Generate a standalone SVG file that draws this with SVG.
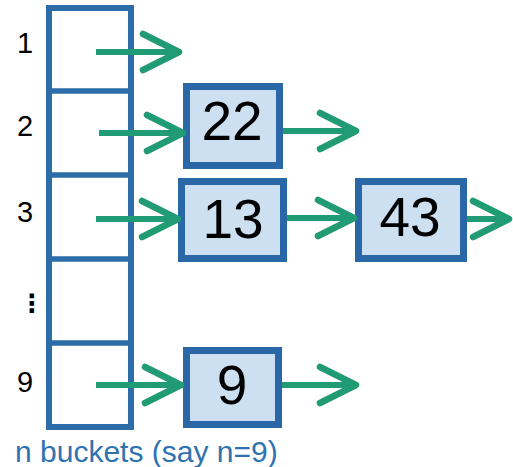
<svg xmlns="http://www.w3.org/2000/svg" width="513" height="467" viewBox="0 0 513 467">
  <style>
    .bucket { fill: #ffffff; stroke: #2b6ca9; stroke-width: 6; }
    .sep { stroke: #2b6ca9; stroke-width: 5.5; }
    .node rect { fill: #cce0f2; stroke: #2967a6; stroke-width: 7; }
    .node text { font-family: "Liberation Sans", Arial, sans-serif; font-size: 55px; fill: #000000; text-anchor: middle; }
    .idx { font-family: "Liberation Sans", Arial, sans-serif; font-size: 29px; fill: #000000; text-anchor: middle; }
    .link { stroke: #219b73; stroke-width: 6; fill: none; marker-end: url(#head); }
    .caption { font-family: "Liberation Sans", Arial, sans-serif; font-size: 30px; fill: #2e72b1; }
  </style>
  <defs>
    <marker id="head" markerUnits="userSpaceOnUse" viewBox="-42 -24 50 48" markerWidth="50" markerHeight="48" refX="0" refY="0" orient="auto" overflow="visible">
      <path d="M-36,-18 L0,0 L-36,18" fill="none" stroke="#219b73" stroke-width="6.5" stroke-linecap="round" stroke-linejoin="round"/>
    </marker>
  </defs>

  <!-- bucket array -->
  <g id="buckets">
    <rect class="bucket" x="49" y="8" width="82" height="419"/>
    <line class="sep" x1="49" y1="91" x2="131" y2="91"/>
    <line class="sep" x1="49" y1="175" x2="131" y2="175"/>
    <line class="sep" x1="49" y1="259" x2="131" y2="259"/>
    <line class="sep" x1="49" y1="343" x2="131" y2="343"/>
  </g>

  <!-- bucket indices -->
  <g id="indices">
    <text class="idx" x="25" y="53">1</text>
    <text class="idx" x="25" y="136">2</text>
    <text class="idx" x="25" y="222">3</text>
    <text x="32" y="312" font-family="DejaVu Sans, sans-serif" font-size="25" font-weight="bold" text-anchor="middle" fill="#000000">⋮</text>
    <text class="idx" x="25" y="392">9</text>
  </g>

  <!-- list nodes -->
  <g id="node-22" class="node">
    <rect x="186.5" y="86.5" width="93" height="79"/>
    <text x="232" y="140">22</text>
  </g>
  <g id="node-13" class="node">
    <rect x="181.5" y="181.5" width="102" height="77"/>
    <text x="233" y="238">13</text>
  </g>
  <g id="node-43" class="node">
    <rect x="358.5" y="181.5" width="105" height="77"/>
    <text x="410" y="236">43</text>
  </g>
  <g id="node-9" class="node">
    <rect x="186.5" y="350.5" width="92" height="74"/>
    <text x="232" y="404">9</text>
  </g>

  <!-- pointers -->
  <g id="connectors">
    <line class="link" x1="96" y1="52" x2="179" y2="52"/>
    <line class="link" x1="99" y1="133" x2="183" y2="133"/>
    <line class="link" x1="96" y1="219" x2="178" y2="219"/>
    <line class="link" x1="96" y1="385" x2="181" y2="385"/>
    <line class="link" x1="283" y1="131" x2="356" y2="131"/>
    <line class="link" x1="287" y1="218" x2="354" y2="218"/>
    <line class="link" x1="467" y1="219" x2="509" y2="219"/>
    <line class="link" x1="282" y1="385" x2="356" y2="385"/>
  </g>

  <text class="caption" x="15" y="462">n buckets (say n=9)</text>
</svg>
